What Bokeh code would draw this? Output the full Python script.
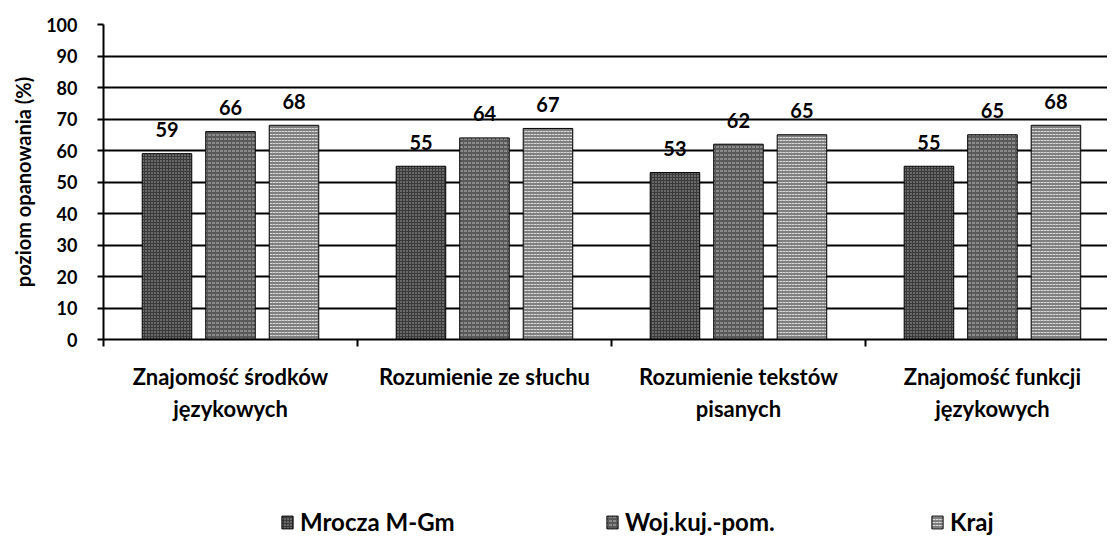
import numpy as np
from bokeh.plotting import figure
from bokeh.layouts import column
from bokeh.models import ColumnDataSource, Range1d, FixedTicker, Legend, LegendItem
from bokeh.core.properties import value
from bokeh.embed import file_html
from bokeh.resources import INLINE

# ---- data ----
categories = ["Znajomość środków\njęzykowych", "Rozumienie ze słuchu",
              "Rozumienie tekstów\npisanych", "Znajomość funkcji\njęzykowych"]
series = ["Mrocza M-Gm", "Woj.kuj.-pom.", "Kraj"]
mrocza = [59, 55, 53, 55]
woj = [66, 64, 62, 65]
kraj = [68, 67, 65, 68]
y_ticks = [0, 10, 20, 30, 40, 50, 60, 70, 80, 90, 100]
y_title = "poziom opanowania (%)"

FONT = "Lato"

p = figure(width=1107, height=434, x_range=Range1d(0, 3.953), y_range=Range1d(0, 100),
           output_backend="svg", toolbar_location=None,
           min_border_left=103, min_border_right=0, min_border_top=24, min_border_bottom=95)
p.outline_line_color = None
p.background_fill_color = "white"
p.border_fill_color = "white"

centers = np.arange(len(categories)) + 0.5
offsets = [-0.25, 0.0, 0.25]
styles = [
    dict(fill_color="#3a3a3a", hatch_pattern="dot", hatch_color="white", hatch_scale=3, hatch_weight=1, hatch_alpha=0.6),
    dict(fill_color="#595959", hatch_pattern="horizontal_dash", hatch_color="white", hatch_scale=4, hatch_weight=1, hatch_alpha=0.6),
    dict(fill_color="#808080", hatch_pattern="horizontal_dash", hatch_color="white", hatch_scale=3, hatch_weight=1, hatch_alpha=0.7),
]
sources = []
for vals, off, st in zip([mrocza, woj, kraj], offsets, styles):
    src = ColumnDataSource(dict(x=centers + off, top=vals, lbl=[str(v) for v in vals]))
    sources.append(src)
    p.vbar(x="x", top="top", bottom=0, width=0.195, source=src,
           line_color="black", line_width=1, **st)
    p.text(x="x", y="top", text="lbl", source=src, text_align="center", text_baseline="middle",
           y_offset=-24, text_font=value(FONT), text_font_style="bold", text_font_size="20px",
           text_color="black")

# y axis
p.yaxis.ticker = FixedTicker(ticks=y_ticks)
p.yaxis.axis_line_color = "black"
p.yaxis.axis_line_width = 2
p.yaxis.major_tick_out = 6
p.yaxis.major_tick_in = 0
p.yaxis.major_tick_line_width = 2
p.yaxis.minor_tick_line_color = None
p.yaxis.major_label_standoff = 20
p.yaxis.major_label_text_font = FONT
p.yaxis.major_label_text_font_style = "bold"
p.yaxis.major_label_text_font_size = "18px"
p.yaxis.major_label_text_color = "black"
p.yaxis.axis_label = y_title
p.yaxis.axis_label_text_font = FONT
p.yaxis.axis_label_text_font_style = "bold"
p.yaxis.axis_label_text_font_size = "20px"
p.yaxis.axis_label_text_color = "black"
p.yaxis.axis_label_standoff = 8

# x axis: labels at centers, tick marks at boundaries
p.xaxis.ticker = FixedTicker(ticks=list(centers), minor_ticks=list(range(len(categories) + 1)))
p.xaxis.major_label_overrides = {float(c): lab for c, lab in zip(centers, categories)}
p.xaxis.axis_line_color = "black"
p.xaxis.axis_line_width = 2
p.xaxis.major_tick_out = 0
p.xaxis.major_tick_in = 0
p.xaxis.minor_tick_out = 7
p.xaxis.minor_tick_in = 0
p.xaxis.minor_tick_line_color = "black"
p.xaxis.minor_tick_line_width = 2
p.xaxis.major_label_standoff = 16
p.xaxis.major_label_text_font = FONT
p.xaxis.major_label_text_font_style = "bold"
p.xaxis.major_label_text_font_size = "22px"
p.xaxis.major_label_text_line_height = 1.2
p.xaxis.major_label_text_color = "black"

p.xgrid.visible = False
p.ygrid.grid_line_color = "black"
p.ygrid.grid_line_width = 2

# ---- legend strip below the chart (its bars lie below its visible range) ----
lf = figure(width=1107, height=102, x_range=Range1d(0, 3.953), y_range=Range1d(70, 71),
            output_backend="svg", toolbar_location=None, min_border=0)
lf.axis.visible = False
lf.grid.visible = False
lf.outline_line_color = None
leg_renderers = [lf.vbar(x="x", top="top", bottom=0, width=0.195, source=src,
                         line_color="black", line_width=1, **st)
                 for src, st in zip(sources, styles)]
legend = Legend(items=[LegendItem(label=s, renderers=[r]) for s, r in zip(series, leg_renderers)],
                orientation="horizontal", location=(177, 0),
                glyph_width=14, glyph_height=16, label_standoff=6, label_width=290, spacing=15,
                label_height=18, padding=0, margin=0, border_line_color=None, background_fill_alpha=0,
                label_text_font=FONT, label_text_font_style="bold", label_text_font_size="24px",
                label_text_color="black")
lf.add_layout(legend, "center")

open("out.html", "w").write(file_html(column(p, lf, spacing=0), INLINE))
